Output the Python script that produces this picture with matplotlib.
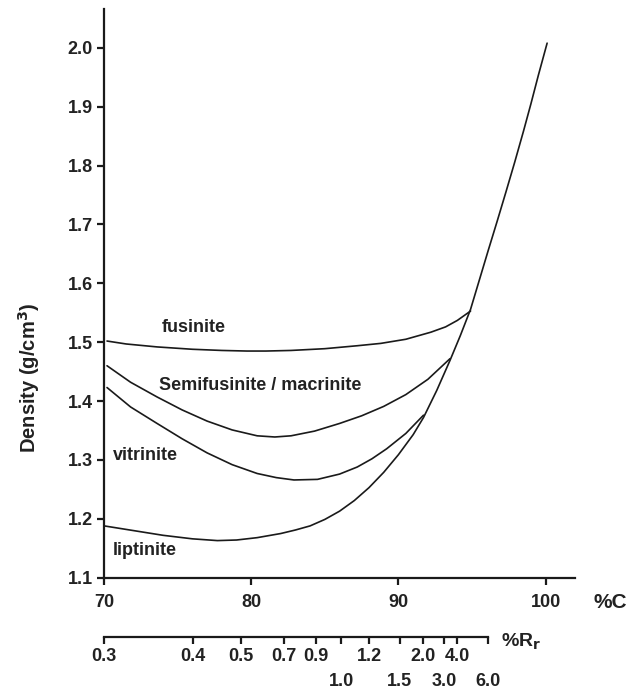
import matplotlib
matplotlib.use("Agg")
import matplotlib.pyplot as plt

plt.rcParams['font.family'] = ['Liberation Sans', 'DejaVu Sans']
plt.rcParams['font.weight'] = 'bold'

# carbon content (%C) and density (g/cm3)
fus_c = [70.2, 71.5, 73.6, 76.0, 78.0, 79.7, 81.0, 82.7, 85.0, 87.2, 88.8, 90.5, 92.2, 93.2, 94.0, 94.9]
fus_d = [1.502, 1.497, 1.492, 1.488, 1.486, 1.485, 1.485, 1.486, 1.489, 1.494, 1.498, 1.505, 1.517, 1.526, 1.537, 1.553]

semi_c = [70.2, 71.8, 73.6, 75.3, 77.0, 78.7, 80.4, 81.6, 82.7, 84.3, 86.0, 87.5, 89.0, 90.5, 92.0, 93.5]
semi_d = [1.460, 1.432, 1.407, 1.385, 1.366, 1.351, 1.341, 1.339, 1.341, 1.349, 1.362, 1.375, 1.391, 1.411, 1.437, 1.472]

vit_c = [70.2, 71.8, 73.6, 75.3, 77.0, 78.7, 80.4, 81.7, 82.9, 84.5, 86.0, 87.2, 88.2, 89.2, 90.5, 91.7]
vit_d = [1.423, 1.390, 1.362, 1.336, 1.312, 1.292, 1.277, 1.270, 1.266, 1.267, 1.276, 1.288, 1.302, 1.319, 1.345, 1.376]

lip_c = [70.0, 72.0, 74.0, 76.0, 77.7, 79.0, 80.4, 82.0, 83.0, 84.0, 85.0, 86.0, 87.0, 88.0, 89.0, 90.0,
         91.0, 91.7, 92.6, 93.5, 94.2, 94.9, 95.5, 96.1, 96.7, 97.3, 97.9, 98.5, 99.0, 99.5, 100.1]
lip_d = [1.188, 1.180, 1.172, 1.166, 1.163, 1.164, 1.168, 1.175, 1.181, 1.188, 1.199, 1.213, 1.231, 1.253, 1.279, 1.309,
         1.343, 1.372, 1.418, 1.469, 1.511, 1.556, 1.606, 1.656, 1.705, 1.755, 1.806, 1.859, 1.905, 1.953, 2.008]

c_ticks = [70, 80, 90, 100]
d_ticks = [1.1, 1.2, 1.3, 1.4, 1.5, 1.6, 1.7, 1.8, 1.9, 2.0]

# vitrinite reflectance scale, placed against %C
rr_upper = ['0.3', '0.4', '0.5', '0.7', '0.9', '1.2', '2.0', '4.0']
rr_upper_c = [70.0, 76.05, 79.3, 82.2, 84.4, 88.0, 91.7, 94.0]
rr_lower = ['1.0', '1.5', '3.0', '6.0']
rr_lower_c = [86.1, 90.1, 93.1, 96.1]

labels = ['fusinite', 'Semifusinite / macrinite', 'vitrinite', 'liptinite']
label_c = [73.95, 73.7, 70.6, 70.6]
label_d = [1.525, 1.427, 1.308, 1.146]

fig = plt.figure(figsize=(6.27, 6.93), dpi=100)
ax = fig.add_axes([0.166, 0.1664, 0.7512, 0.8206])

for c, d in [(fus_c, fus_d), (semi_c, semi_d), (vit_c, vit_d), (lip_c, lip_d)]:
    ax.plot(c, d, color='#1a1a1a', lw=1.2, solid_capstyle='round', solid_joinstyle='round')

for t, c, d in zip(labels, label_c, label_d):
    ax.text(c, d, t, fontsize=13, fontweight='bold', color='#222222', va='center', ha='left')

ax.set_xlim(70, 102)
ax.set_ylim(1.1, 2.066)
ax.set_xticks(c_ticks)
ax.set_xticklabels([str(v) for v in c_ticks])
ax.set_yticks(d_ticks)
ax.set_yticklabels(['%.1f' % v for v in d_ticks])
ax.spines['top'].set_visible(False)
ax.spines['right'].set_visible(False)
for s in ['left', 'bottom']:
    ax.spines[s].set_linewidth(1.6)
    ax.spines[s].set_color('#1a1a1a')
ax.tick_params(direction='out', length=5, width=1.6, colors='#1a1a1a', labelsize=13, labelcolor='#222222')
ax.tick_params(axis='x', pad=7)
ax.tick_params(axis='y', pad=3)
ax.set_ylabel('Density (g/cm$^\\mathbf{3}$)', fontsize=14.5, fontweight='bold', color='#222222')
ax.yaxis.set_label_coords(-0.131, 0.352)

# second scale (%Rr)
ax2 = fig.add_axes([0.166, 0.0813, 0.7512, 0.0001])
ax2.set_xlim(70, 102)
ax2.set_ylim(0, 1)
ax2.set_yticks([])
for s in ['top', 'right', 'left']:
    ax2.spines[s].set_visible(False)
ax2.spines['bottom'].set_bounds(70, 96.1)
ax2.spines['bottom'].set_linewidth(1.6)
ax2.spines['bottom'].set_color('#1a1a1a')
ax2.patch.set_visible(False)
ax2.set_xticks(rr_upper_c)
ax2.set_xticklabels(rr_upper)
ax2.set_xticks(rr_lower_c, minor=True)
ax2.set_xticklabels(rr_lower, minor=True)
ax2.tick_params(axis='x', which='major', direction='out', length=5, width=1.6, colors='#1a1a1a',
                labelsize=13, labelcolor='#222222', pad=3)
ax2.tick_params(axis='x', which='minor', direction='out', length=5, width=1.6, colors='#1a1a1a',
                labelsize=13, labelcolor='#222222', pad=21)

fig.text(0.947, 0.130, '%C', fontsize=15, fontweight='bold', color='#222222', va='center', ha='left')
fig.text(0.799, 0.074, '%R$_\\mathbf{r}$', fontsize=14, fontweight='bold', color='#222222', va='center', ha='left')

fig.savefig('out.png', dpi=100)
